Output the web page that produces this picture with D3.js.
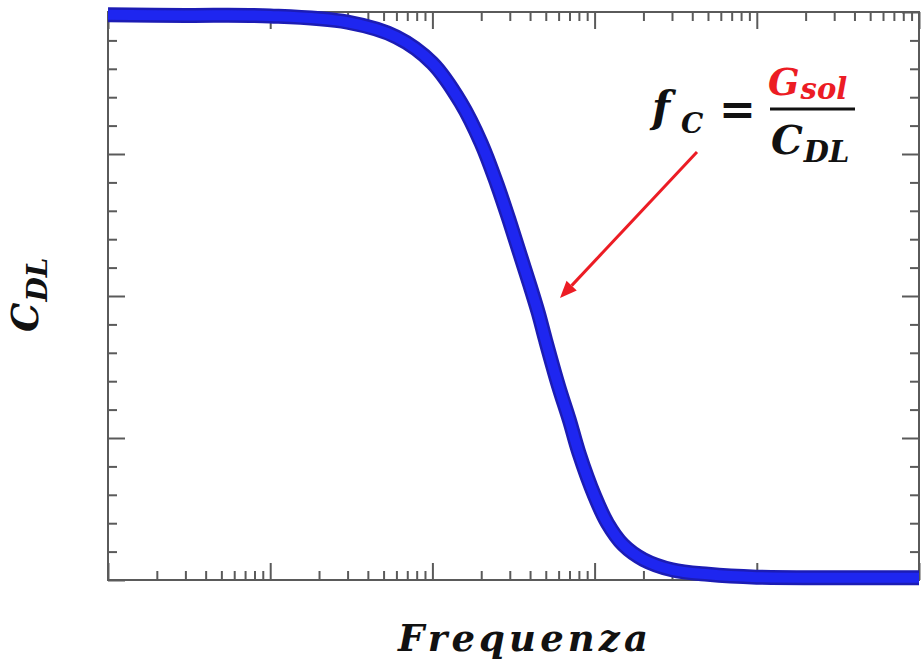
<!DOCTYPE html>
<html>
<head>
<meta charset="utf-8">
<script src="https://cdn.jsdelivr.net/npm/d3@7"></script>
<style>
  html, body { margin: 0; padding: 0; background: #fff; }
  svg { display: block; }
</style>
</head>
<body>
<svg id="chart" width="921" height="670"></svg>
<script>
// Double-layer capacitance vs frequency (log axis), normalised C_DL
const frequency = [1, 3, 10, 30, 60, 100, 150, 200, 250, 300, 350, 400, 450, 500,
                   600, 700, 800, 1000, 1200, 1500, 2000, 3000, 5000, 10000, 30000, 100000];
const capacitance = [0.995, 0.994, 0.993, 0.982, 0.956, 0.910, 0.840, 0.769, 0.697, 0.630,
                     0.570, 0.518, 0.470, 0.421, 0.341, 0.281, 0.224, 0.148, 0.100, 0.062,
                     0.036, 0.018, 0.010, 0.005, 0.004, 0.004];

// Tick positions (no tick labels are shown)
const xMajorTicks = [1, 10, 100, 1000, 10000, 100000];
const yMajorTicks = [0, 0.25, 0.5, 0.75, 1];
const yMinorTicks = d3.range(0, 1.0001, 0.05).filter(v => !yMajorTicks.some(m => Math.abs(m - v) < 1e-9));

// Text
const xLabel = "Frequenza";
const yLabelMain = "C", yLabelSub = "DL";

const svg = d3.select("#chart");
const plot = { left: 108, right: 919, top: 12, bottom: 580 };

const x = d3.scaleLog().domain([1, 1e5]).range([plot.left, plot.right]);
const y = d3.scaleLinear().domain([0, 1]).range([plot.bottom, plot.top]);

const xMinorTicks = x.ticks().filter(v => !xMajorTicks.includes(v));

const axisColor = "#5a5a5a";
const majorLen = 17, minorLen = 9;

function styleAxis(g) {
  g.selectAll("path.domain").remove();
  g.selectAll(".tick line").attr("stroke", axisColor).attr("stroke-width", 2);
  g.selectAll(".tick text").remove();
}

// Inward ticks on all four sides
const axes = svg.append("g").attr("class", "axes");
[[d3.axisBottom, plot.bottom], [d3.axisTop, plot.top]].forEach(([axisFn, pos]) => {
  axes.append("g").attr("transform", `translate(0,${pos})`)
    .call(axisFn(x).tickValues(xMinorTicks).tickSize(-minorLen).tickFormat(""))
    .call(styleAxis);
  axes.append("g").attr("transform", `translate(0,${pos})`)
    .call(axisFn(x).tickValues(xMajorTicks).tickSize(-majorLen).tickFormat(""))
    .call(styleAxis);
});
[[d3.axisLeft, plot.left], [d3.axisRight, plot.right]].forEach(([axisFn, pos]) => {
  axes.append("g").attr("transform", `translate(${pos},0)`)
    .call(axisFn(y).tickValues(yMinorTicks).tickSize(-minorLen).tickFormat(""))
    .call(styleAxis);
  axes.append("g").attr("transform", `translate(${pos},0)`)
    .call(axisFn(y).tickValues(yMajorTicks).tickSize(-majorLen).tickFormat(""))
    .call(styleAxis);
});

// Frame
svg.append("rect")
  .attr("x", plot.left).attr("y", plot.top)
  .attr("width", plot.right - plot.left).attr("height", plot.bottom - plot.top)
  .attr("fill", "none").attr("stroke", axisColor).attr("stroke-width", 2);

// Data curve: thick band of dense markers
const pts = frequency.map((f, i) => [x(f), y(capacitance[i])]);
const line = d3.line().curve(d3.curveCatmullRom.alpha(0.5));
svg.append("path").attr("d", line(pts))
  .attr("fill", "none").attr("stroke", "#1c1cb4").attr("stroke-width", 15);
svg.append("path").attr("d", line(pts))
  .attr("fill", "none").attr("stroke", "#1e26f0").attr("stroke-width", 10);

// Axis labels
const labelFont = "'DejaVu Serif', serif";
svg.append("text")
  .attr("x", 523).attr("y", 651)
  .attr("text-anchor", "middle")
  .attr("font-family", labelFont).attr("font-weight", "bold").attr("font-style", "italic")
  .attr("font-size", 37).attr("fill", "#111")
  .attr("textLength", 250).attr("lengthAdjust", "spacing")
  .text(xLabel);

const yl = svg.append("text")
  .attr("transform", "translate(38,332) rotate(-90)")
  .attr("font-family", labelFont).attr("font-weight", "bold").attr("font-style", "italic")
  .attr("fill", "#111");
yl.append("tspan").attr("font-size", 37).text(yLabelMain);
yl.append("tspan").attr("font-size", 28).attr("dy", 9).attr("dx", 1).text(yLabelSub);

// Annotation: f_C = G_sol / C_DL
const eq = svg.append("g")
  .attr("font-family", labelFont).attr("font-weight", "bold").attr("font-style", "italic");
const red = "#ec1c24";
eq.append("text").attr("x", 652).attr("y", 122).attr("font-size", 42).attr("fill", "#111").text("f");
eq.append("text").attr("x", 681).attr("y", 133).attr("font-size", 28).attr("fill", "#111").text("C");
eq.append("text").attr("x", 719).attr("y", 125).attr("font-size", 44).attr("font-style", "normal")
  .attr("font-weight", "bold").attr("fill", "#111").text("=");
eq.append("line").attr("x1", 770).attr("x2", 855).attr("y1", 109).attr("y2", 109)
  .attr("stroke", "#111").attr("stroke-width", 3);
const num = eq.append("text").attr("x", 768).attr("y", 95).attr("fill", red);
num.append("tspan").attr("font-size", 37).text("G");
num.append("tspan").attr("font-size", 29).attr("dy", 4).attr("dx", 1).text("sol");
const den = eq.append("text").attr("x", 771).attr("y", 154).attr("fill", "#111");
den.append("tspan").attr("font-size", 40).text("C");
den.append("tspan").attr("font-size", 29).attr("dy", 8).attr("dx", 1).text("DL");

// Arrow pointing at the inflection of the curve
const tail = [697, 152], tip = [560, 298];
const ang = Math.atan2(tip[1] - tail[1], tip[0] - tail[0]);
const headLen = 17, headHalf = 7;
const base = [tip[0] - headLen * Math.cos(ang), tip[1] - headLen * Math.sin(ang)];
svg.append("line")
  .attr("x1", tail[0]).attr("y1", tail[1]).attr("x2", base[0]).attr("y2", base[1])
  .attr("stroke", red).attr("stroke-width", 3);
svg.append("path")
  .attr("d", d3.line()([
    tip,
    [base[0] + headHalf * Math.sin(ang), base[1] - headHalf * Math.cos(ang)],
    [base[0] - headHalf * Math.sin(ang), base[1] + headHalf * Math.cos(ang)]
  ]) + "Z")
  .attr("fill", red);
</script>
</body>
</html>
